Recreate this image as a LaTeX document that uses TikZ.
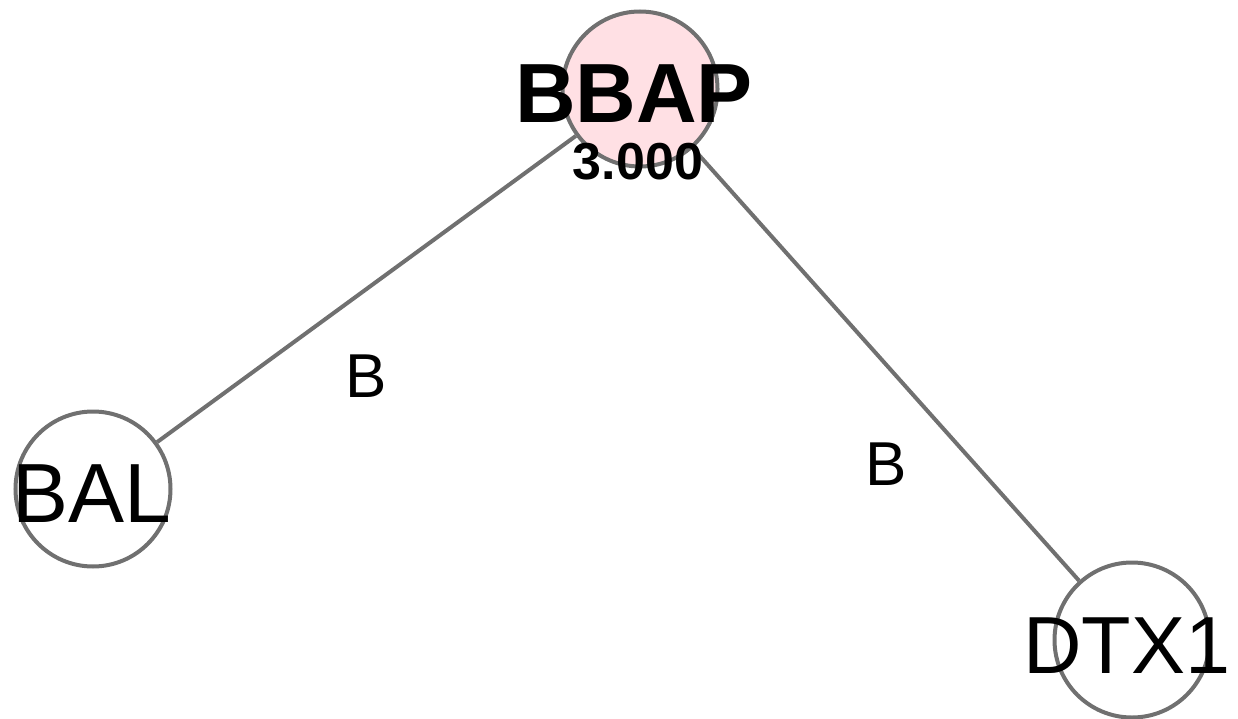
\documentclass[tikz,border=0pt]{standalone}
\usepackage{fontspec}
\setmainfont{Liberation Sans}
\usetikzlibrary{backgrounds}
\definecolor{vtxline}{RGB}{112,112,112}
\definecolor{hitpink}{RGB}{255,224,228}
\newcommand{\bigname}{\fontsize{84}{84}\selectfont}
\newcommand{\scorefont}{\fontsize{52}{52}\selectfont\bfseries}

\begin{document}
\begin{tikzpicture}[x=1pt, y=-1pt,
  vtx/.style={circle, draw=vtxline, line width=4pt, fill=white, minimum size=155pt, inner sep=0pt},
  vname/.style={font=\bigname, inner sep=0pt},
  conn/.style={draw=vtxline, line width=4pt},
  elab/.style={font=\fontsize{62}{62}\selectfont, inner sep=0pt, midway},
]
\useasboundingbox (0,0) rectangle (1238,719);
\node[vtx, fill=hitpink] (BBAP) at (640,89) {};
\node[vtx] (BAL) at (93,489) {};
\node[vtx] (DTX1) at (1132,640) {};
\begin{scope}[on background layer]
\draw[conn] (BAL) -- node[elab, yshift=-87pt] (labA) {B} (BBAP);
\draw[conn] (BBAP) -- node[elab, yshift=-100pt] (labB) {B} (DTX1);
\end{scope}
\node[vname, font=\bigname\bfseries, anchor=base] (nBBAP) at (634,123) {BBAP};
\node[inner sep=0pt, font=\scorefont, anchor=base] (sBBAP) at (638,180) {3.000};
\node[vname, anchor=base] (nBAL) at (92,522) {BAL};
\node[vname, font=\fontsize{81}{81}\selectfont, anchor=base] (nDTX1) at (1127,673) {DTX1};
\end{tikzpicture}
\end{document}
